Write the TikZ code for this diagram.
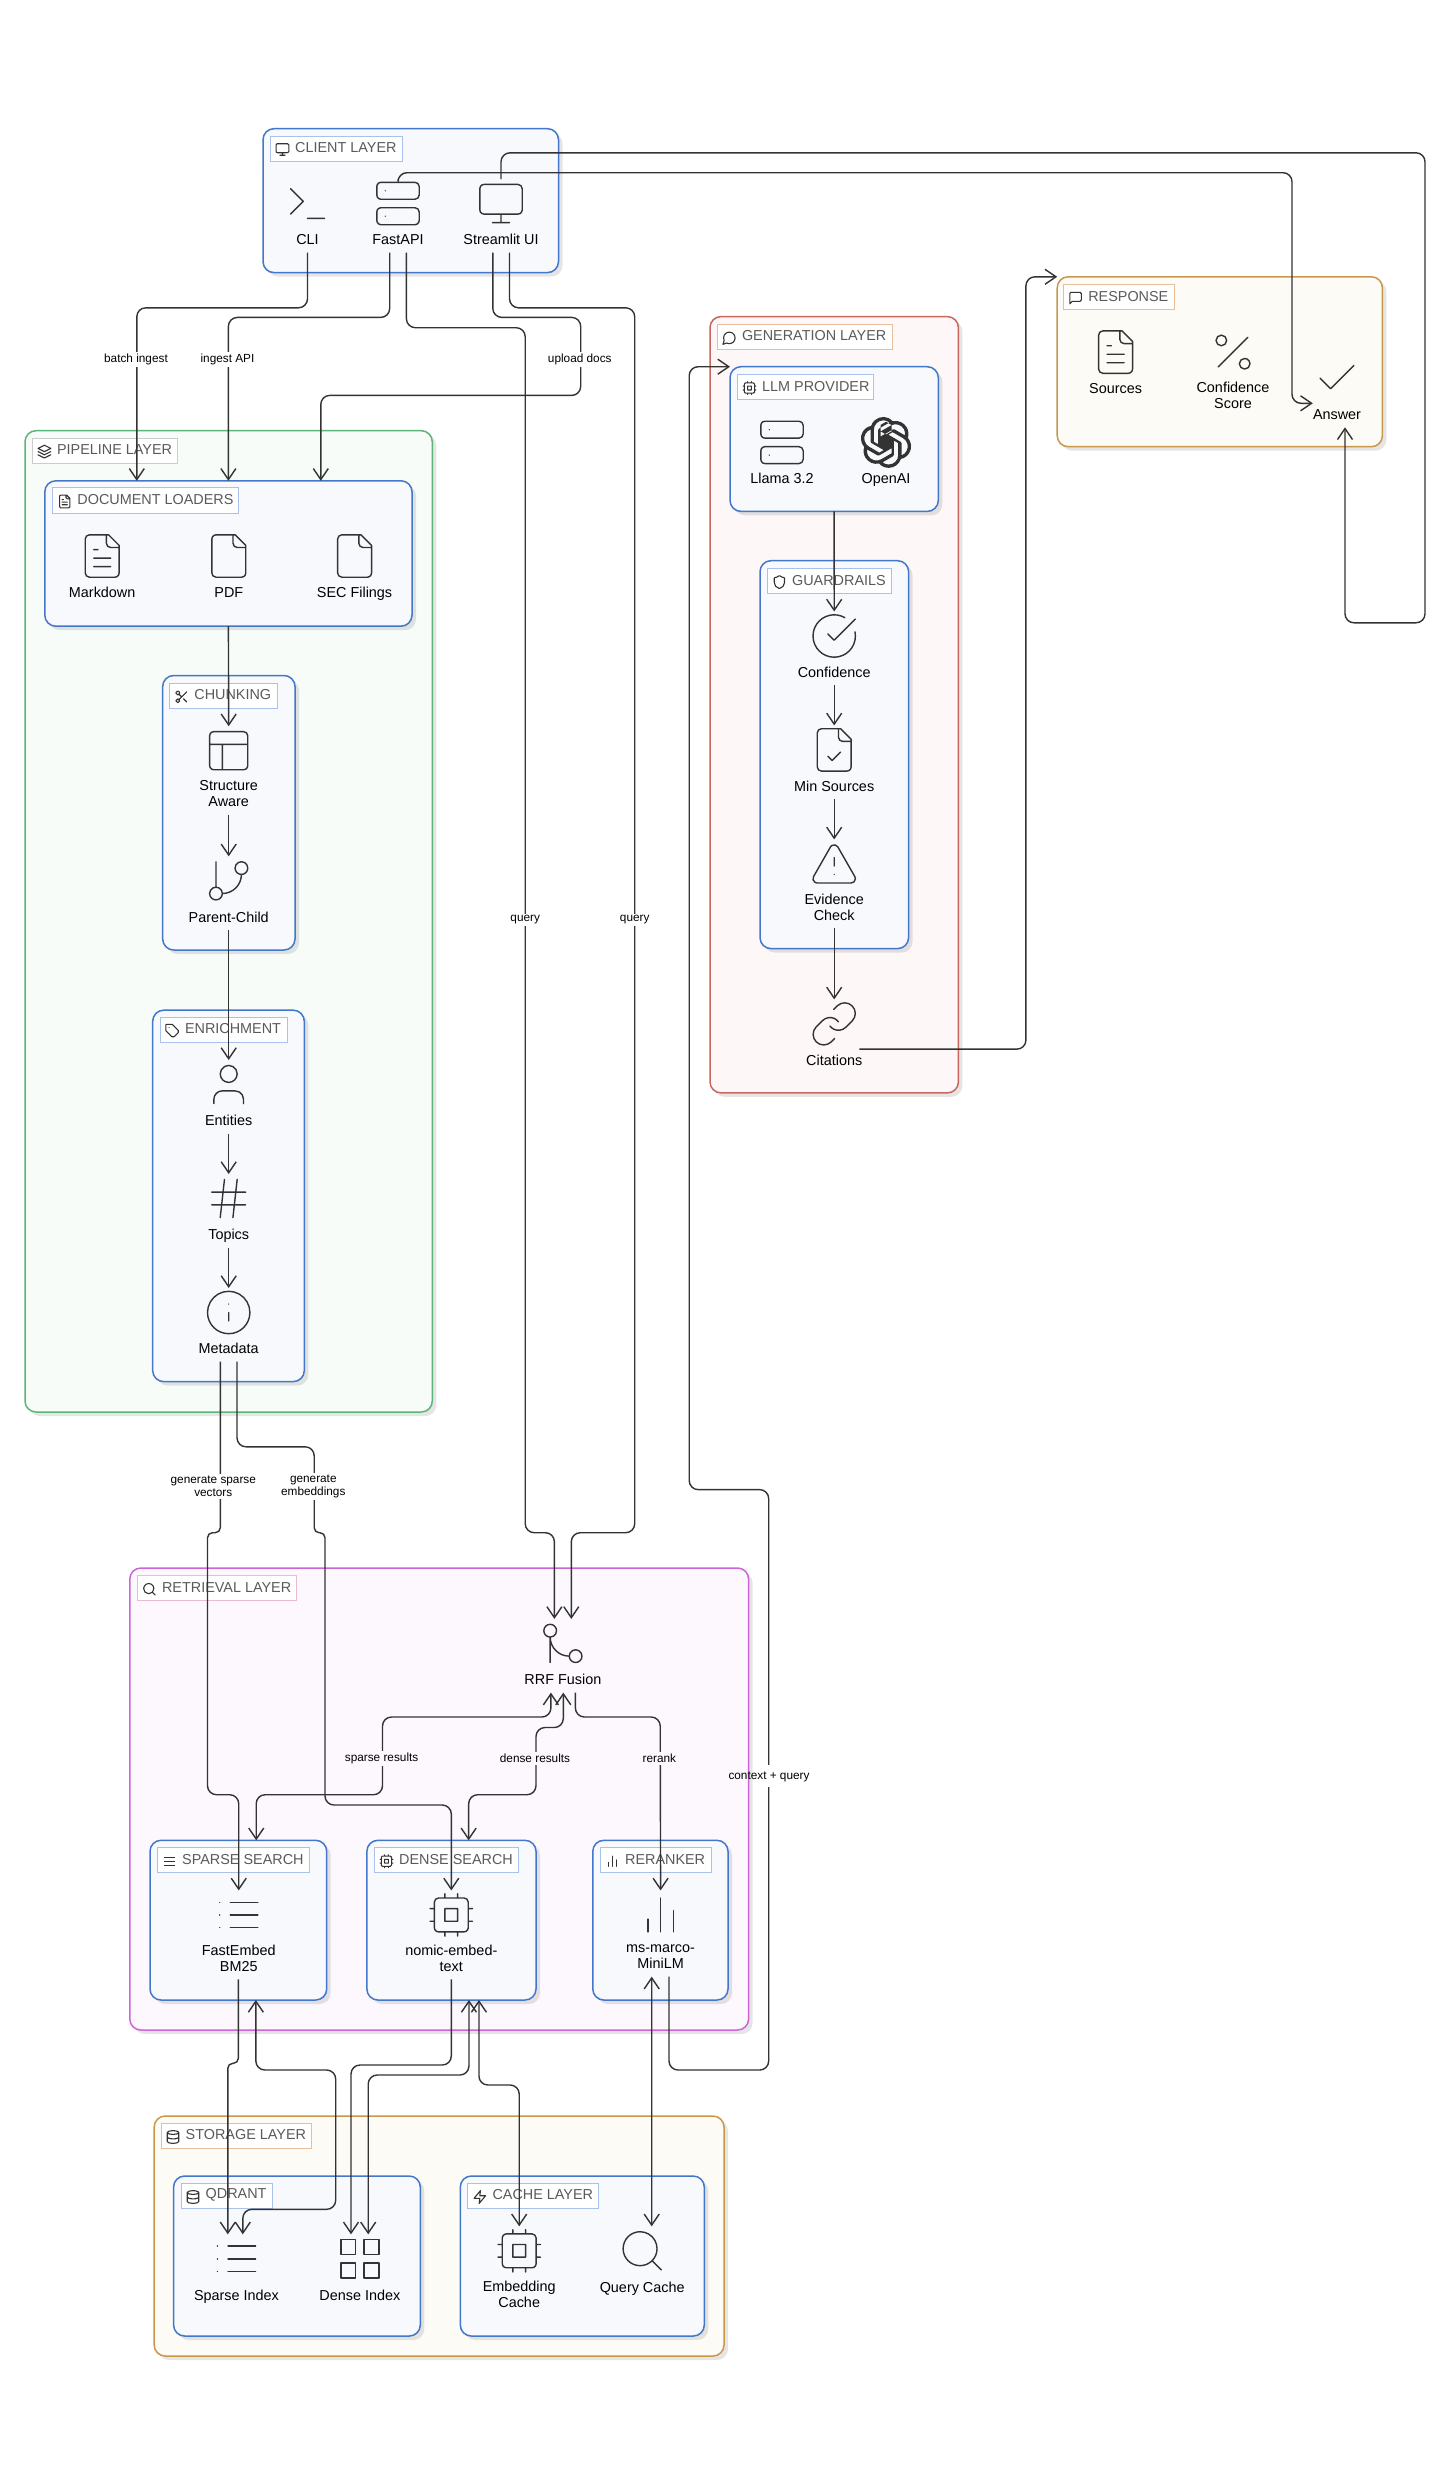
\documentclass[tikz,border=0pt]{standalone}
\usepackage{fontspec}
\setmainfont{Liberation Sans}
\usetikzlibrary{arrows.meta,fit,shadows,svg.path}

\definecolor{inkline}{HTML}{333333}
\definecolor{taginkc}{HTML}{5A5A5A}
\definecolor{bluepen}{HTML}{4277CC}
\definecolor{bluefill}{HTML}{F8F9FD}
\definecolor{bluetag}{HTML}{A9C2EC}
\definecolor{greenpen}{HTML}{5CB578}
\definecolor{greenfill}{HTML}{F7FCF8}
\definecolor{redpen}{HTML}{C9665F}
\definecolor{redfill}{HTML}{FDF7F7}
\definecolor{orangepen}{HTML}{C9984D}
\definecolor{orangefill}{HTML}{FCFBF6}
\definecolor{orangetag}{HTML}{E9BC9A}
\definecolor{pinkpen}{HTML}{CC66D6}
\definecolor{pinkfill}{HTML}{FCF8FD}
\definecolor{pinktag}{HTML}{EBBBD2}

\tikzset{
  lucide/.style = {draw = inkline, shift = {(-12pt,12pt)}, yscale = -1,
    line cap = round, line join = round},
  bigicon/.style = {scale = 2.12, line width = 1.4pt},
  tagicon/.style = {scale = 0.64, line width = 1.1pt},
  panel/.style = {draw = #1pen, fill = #1fill, line width = 1.5pt, rounded corners = 11pt,
    inner sep = 0pt, outer sep = 0pt,
    drop shadow = {shadow xshift = 4pt, shadow yshift = -4pt, fill = black, opacity = .1}},
  tagbox/.style = {draw = #1, fill = white, line width = .8pt, inner sep = 0pt, outer sep = 0pt},
  tagtext/.style = {text = taginkc, font = \fontsize{14.4}{16}\selectfont, inner sep = 0pt},
  entrytext/.style = {text = black, font = \fontsize{14.4}{16}\selectfont, align = center,
    inner xsep = 0pt, inner ysep = 2.8pt, execute at begin node = \strut},
  flowlabel/.style = {text = black, font = \fontsize{11.8}{13}\selectfont, align = center,
    fill = #1, inner xsep = 2pt, inner ysep = 2pt},
  flowlabel/.default = white,
  flow/.style = {draw = inkline, line width = 1.4pt, rounded corners = 9pt,
    -{Straight Barb[length = 11pt, width = 15pt]}},
  twoway/.style = {flow, {Straight Barb[length = 11pt, width = 15pt]}-{Straight Barb[length = 11pt, width = 15pt]}}
}

\newcommand{\newicon}[2]{\tikzset{pics/#1/.style = {code = {\path[lucide] svg {#2};}}}}

\newicon{icmonitor}{M 4 3 h 16 a 2 2 0 0 1 2 2 v 10 a 2 2 0 0 1 -2 2 h -16 a 2 2 0 0 1 -2 -2 v -10 a 2 2 0 0 1 2 -2 z M 8 21 h 8 M 12 17 v 4}
\newicon{icterminal}{M 4 17 L 10 11 L 4 5 M 12 19 h 8}
\newicon{icserver}{M 4 2 h 16 a 2 2 0 0 1 2 2 v 4 a 2 2 0 0 1 -2 2 h -16 a 2 2 0 0 1 -2 -2 v -4 a 2 2 0 0 1 2 -2 z M 4 14 h 16 a 2 2 0 0 1 2 2 v 4 a 2 2 0 0 1 -2 2 h -16 a 2 2 0 0 1 -2 -2 v -4 a 2 2 0 0 1 2 -2 z M 6 6 h 0.01 M 6 18 h 0.01}
\newicon{icfile}{M 15 2 H 6 a 2 2 0 0 0 -2 2 v 16 a 2 2 0 0 0 2 2 h 12 a 2 2 0 0 0 2 -2 V 7 z M 14 2 v 4 a 2 2 0 0 0 2 2 h 4}
\newicon{icfiletext}{M 15 2 H 6 a 2 2 0 0 0 -2 2 v 16 a 2 2 0 0 0 2 2 h 12 a 2 2 0 0 0 2 -2 V 7 z M 14 2 v 4 a 2 2 0 0 0 2 2 h 4 M 10 9 H 8 M 16 13 H 8 M 16 17 H 8}
\newicon{icfilecheck}{M 15 2 H 6 a 2 2 0 0 0 -2 2 v 16 a 2 2 0 0 0 2 2 h 12 a 2 2 0 0 0 2 -2 V 7 z M 14 2 v 4 a 2 2 0 0 0 2 2 h 4 M 9 15 l 2 2 l 4 -4}
\newicon{iclayout}{M 5 3 h 14 a 2 2 0 0 1 2 2 v 14 a 2 2 0 0 1 -2 2 h -14 a 2 2 0 0 1 -2 -2 v -14 a 2 2 0 0 1 2 -2 z M 3 9 h 18 M 9 21 v -12}
\newicon{icbranch}{M 6 3 v 12 M 15 6 a 3 3 0 0 0 3 3 a 3 3 0 0 0 3 -3 a 3 3 0 0 0 -3 -3 a 3 3 0 0 0 -3 3 z M 3 18 a 3 3 0 0 0 3 3 a 3 3 0 0 0 3 -3 a 3 3 0 0 0 -3 -3 a 3 3 0 0 0 -3 3 z M 18 9 a 9 9 0 0 1 -9 9}
\newicon{icmerge}{M 15 18 a 3 3 0 0 0 3 3 a 3 3 0 0 0 3 -3 a 3 3 0 0 0 -3 -3 a 3 3 0 0 0 -3 3 z M 3 6 a 3 3 0 0 0 3 3 a 3 3 0 0 0 3 -3 a 3 3 0 0 0 -3 -3 a 3 3 0 0 0 -3 3 z M 6 21 V 9 a 9 9 0 0 0 9 9}
\newicon{icuser}{M 19 21 v -2 a 4 4 0 0 0 -4 -4 H 9 a 4 4 0 0 0 -4 4 v 2 M 8 7 a 4 4 0 0 0 4 4 a 4 4 0 0 0 4 -4 a 4 4 0 0 0 -4 -4 a 4 4 0 0 0 -4 4 z}
\newicon{ichash}{M 4 9 h 16 M 4 15 h 16 M 10 3 L 8 21 M 16 3 L 14 21}
\newicon{icinfo}{M 2 12 a 10 10 0 0 0 10 10 a 10 10 0 0 0 10 -10 a 10 10 0 0 0 -10 -10 a 10 10 0 0 0 -10 10 z M 12 16 v -4 M 12 8 h 0.01}
\newicon{iccircheck}{M 21.801 10 A 10 10 0 1 1 17 3.335 M 9 11 l 3 3 L 22 4}
\newicon{icalert}{M 21.73 18 l -8 -14 a 2 2 0 0 0 -3.48 0 l -8 14 A 2 2 0 0 0 4 21 h 16 a 2 2 0 0 0 1.73 -3 z M 12 9 v 4 M 12 17 h 0.01}
\newicon{iclink}{M 10 13 a 5 5 0 0 0 7.54 0.54 l 3 -3 a 5 5 0 0 0 -7.07 -7.07 l -1.72 1.71 M 14 11 a 5 5 0 0 0 -7.54 -0.54 l -3 3 a 5 5 0 0 0 7.07 7.07 l 1.71 -1.71}
\newicon{icpercent}{M 19 5 L 5 19 M 4 6.5 a 2.5 2.5 0 0 0 2.5 2.5 a 2.5 2.5 0 0 0 2.5 -2.5 a 2.5 2.5 0 0 0 -2.5 -2.5 a 2.5 2.5 0 0 0 -2.5 2.5 z M 15 17.5 a 2.5 2.5 0 0 0 2.5 2.5 a 2.5 2.5 0 0 0 2.5 -2.5 a 2.5 2.5 0 0 0 -2.5 -2.5 a 2.5 2.5 0 0 0 -2.5 2.5 z}
\newicon{iccheck}{M 20 6 L 9 17 l -5 -5}
\newicon{icsearch}{M 3 11 a 8 8 0 0 0 8 8 a 8 8 0 0 0 8 -8 a 8 8 0 0 0 -8 -8 a 8 8 0 0 0 -8 8 z M 21 21 L 16.65 16.65}
\newicon{iclist}{M 8 6 h 13 M 8 12 h 13 M 8 18 h 13 M 3 6 h 0.01 M 3 12 h 0.01 M 3 18 h 0.01}
\newicon{icmenu}{M 4 6 h 16 M 4 12 h 16 M 4 18 h 16}
\newicon{icbars}{M 6 20 V 14 M 12 20 V 4 M 18 20 V 10}
\newicon{iccpu}{M 6 4 h 12 a 2 2 0 0 1 2 2 v 12 a 2 2 0 0 1 -2 2 h -12 a 2 2 0 0 1 -2 -2 v -12 a 2 2 0 0 1 2 -2 z M 9 9 h 6 v 6 h -6 z M 15 2 v 2 M 15 20 v 2 M 2 15 h 2 M 2 9 h 2 M 20 15 h 2 M 20 9 h 2 M 9 2 v 2 M 9 20 v 2}
\newicon{icgrid}{M 3 3 h 7 v 7 h -7 z M 14 3 h 7 v 7 h -7 z M 14 14 h 7 v 7 h -7 z M 3 14 h 7 v 7 h -7 z}
\newicon{iclayers}{M 12 2 L 2 7 l 10 5 l 10 -5 z M 2 17 l 10 5 l 10 -5 M 2 12 l 10 5 l 10 -5}
\newicon{icscissors}{M 3 6 a 3 3 0 0 0 3 3 a 3 3 0 0 0 3 -3 a 3 3 0 0 0 -3 -3 a 3 3 0 0 0 -3 3 z M 8.12 8.12 L 12 12 M 20 4 L 8.12 15.88 M 3 18 a 3 3 0 0 0 3 3 a 3 3 0 0 0 3 -3 a 3 3 0 0 0 -3 -3 a 3 3 0 0 0 -3 3 z M 14.8 14.8 L 20 20}
\newicon{ictag}{M 12 2 H 2 v 10 l 9.29 9.29 c 0.94 0.94 2.48 0.94 3.42 0 l 6.58 -6.58 c 0.94 -0.94 0.94 -2.48 0 -3.42 L 12 2 z M 7 7 h 0.01}
\newicon{icbubble}{M 7.9 20 A 9 9 0 1 0 4 16.1 L 2 22 z}
\newicon{icsquare}{M 21 15 a 2 2 0 0 1 -2 2 H 7 l -4 4 V 5 a 2 2 0 0 1 2 -2 h 14 a 2 2 0 0 1 2 2 z}
\newicon{icshield}{M 20 13 c 0 5 -3.5 7.5 -7.66 8.95 a 1 1 0 0 1 -0.67 -0.01 C 7.5 20.5 4 18 4 13 V 6 a 1 1 0 0 1 1 -1 c 2 0 4.5 -1.2 6.24 -2.72 a 1.17 1.17 0 0 1 1.52 0 C 14.51 3.81 17 5 19 5 a 1 1 0 0 1 1 1 z}
\newicon{icdatabase}{M 3 5 a 9 3 0 0 0 9 3 a 9 3 0 0 0 9 -3 a 9 3 0 0 0 -9 -3 a 9 3 0 0 0 -9 3 z M 3 5 V 19 a 9 3 0 0 0 9 3 a 9 3 0 0 0 9 -3 V 5 M 3 12 a 9 3 0 0 0 9 3 a 9 3 0 0 0 9 -3}
\newicon{iczap}{M 13 2 L 3 14 h 9 l -1 8 l 10 -12 h -9 z}

\tikzset{pics/icopenai/.style = {code = {\path[lucide, draw = none, fill = inkline] svg {M 22.2819 9.8211 a 5.9847 5.9847 0 0 0 -0.5157 -4.9108 a 6.0462 6.0462 0 0 0 -6.5098 -2.9 A 6.0651 6.0651 0 0 0 4.9807 4.1818 a 5.9847 5.9847 0 0 0 -3.9977 2.9 a 6.0462 6.0462 0 0 0 0.7427 7.0966 a 5.98 5.98 0 0 0 0.511 4.9107 a 6.051 6.051 0 0 0 6.5146 2.9001 A 5.9847 5.9847 0 0 0 13.2599 24 a 6.0557 6.0557 0 0 0 5.7718 -4.2058 a 5.9894 5.9894 0 0 0 3.9977 -2.9001 a 6.0557 6.0557 0 0 0 -0.7475 -7.0729 z m -9.022 12.6081 a 4.4755 4.4755 0 0 1 -2.8764 -1.0408 l 0.1419 -0.0804 l 4.7783 -2.7582 a 0.7948 0.7948 0 0 0 0.3927 -0.6813 v -6.7369 l 2.02 1.1686 a 0.071 0.071 0 0 1 0.038 0.052 v 5.5826 a 4.504 4.504 0 0 1 -4.4945 4.4944 z m -9.6607 -4.1254 a 4.4708 4.4708 0 0 1 -0.5346 -3.0137 l 0.142 0.0852 l 4.783 2.7582 a 0.7712 0.7712 0 0 0 0.7806 0 l 5.8428 -3.3685 v 2.3324 a 0.0804 0.0804 0 0 1 -0.0332 0.0615 L 9.74 19.9502 a 4.4992 4.4992 0 0 1 -6.1408 -1.6464 z M 2.3408 7.8956 a 4.485 4.485 0 0 1 2.3655 -1.9728 V 11.6 a 0.7664 0.7664 0 0 0 0.3879 0.6765 l 5.8144 3.3543 l -2.0201 1.1685 a 0.0757 0.0757 0 0 1 -0.071 0 l -4.8303 -2.7865 A 4.504 4.504 0 0 1 2.3408 7.872 z m 16.5963 3.8558 L 13.1038 8.364 L 15.1192 7.2 a 0.0757 0.0757 0 0 1 0.071 0 l 4.8303 2.7913 a 4.4944 4.4944 0 0 1 -0.6765 8.1042 v -5.6772 a 0.79 0.79 0 0 0 -0.407 -0.667 z m 2.0107 -3.0231 l -0.142 -0.0852 l -4.7735 -2.7818 a 0.7759 0.7759 0 0 0 -0.7854 0 L 9.409 9.2297 V 6.8974 a 0.0662 0.0662 0 0 1 0.0284 -0.0615 l 4.8303 -2.7866 a 4.4992 4.4992 0 0 1 6.6802 4.66 z M 8.3065 12.863 l -2.02 -1.1638 a 0.0804 0.0804 0 0 1 -0.038 -0.0567 V 6.0742 a 4.4992 4.4992 0 0 1 7.3757 -3.4537 l -0.142 0.0805 L 8.704 5.459 a 0.7948 0.7948 0 0 0 -0.3927 0.6813 z m 1.0976 -2.3654 l 2.602 -1.4998 l 2.6069 1.4998 v 2.9994 l -2.5974 1.4997 l -2.6067 -1.4997 z};}}}

% box from two corners: style colour, name, x1, y1, x2, y2
\newcommand{\panelbox}[6]{\node[panel = #1, fit = {(#3,#4) (#5,#6)}] (#2) {};}

% caption of a box: border colour, name, x1, y1, x2, y2, icon, text
\newcommand{\tagrow}[8]{%
  \node[tagbox = #1, fit = {(#3,#4) (#5,#6)}] (#2) {};
  \pic[tagicon] at ([xshift = 12pt, yshift = -1pt]#2.west) {#7};
  \node[tagtext, anchor = west] (#2-text) at ([xshift = 24.5pt, yshift = 1pt]#2.west) {#8};}

% icon with its text under it: name, icon, x, y of first line, text
\newcommand{\entry}[5]{%
  \pic[bigicon] at (#3,#4-36.5) {#2};
  \coordinate (#1-top) at (#3,#4-61);
  \node[entrytext, anchor = north] (#1) at (#3,#4-9.3) {#5};}

\begin{document}
\begin{tikzpicture}[x = 1pt, y = -1pt]

    \useasboundingbox[fill = white] (0,0) rectangle (1450,2473);

    % Outer boxes
    \panelbox{blue}{client}{263}{128.7}{558.5}{272.6}
    \panelbox{green}{pipeline}{25}{430.7}{432.3}{1412}
    \panelbox{red}{generation}{710}{316.6}{958.4}{1092.9}
    \panelbox{orange}{response}{1057.2}{276.8}{1382.4}{446.7}
    \panelbox{pink}{retrieval}{129.8}{1568}{748.6}{2030}
    \panelbox{orange}{storage}{154.2}{2116}{724}{2356}

    % Inner boxes
    \panelbox{blue}{loaders}{44.8}{480.8}{412}{626.2}
    \panelbox{blue}{chunking}{162.7}{675.5}{295}{950}
    \panelbox{blue}{enrichment}{152.7}{1010.2}{304.3}{1381.6}
    \panelbox{blue}{llm}{730}{366.7}{938.3}{511.4}
    \panelbox{blue}{guardrails}{760}{560.7}{908.6}{948.6}
    \panelbox{blue}{sparse}{150}{1840.3}{326.7}{2000}
    \panelbox{blue}{dense}{366.9}{1840.3}{536}{2000}
    \panelbox{blue}{reranker}{592.8}{1840.3}{728}{2000}
    \panelbox{blue}{qdrant}{173.6}{2176}{420.3}{2336}
    \panelbox{blue}{cache}{460.3}{2176}{704.3}{2336}

    % Captions
    \tagrow{bluetag}{clienttag}{270.5}{136}{402}{161}{icmonitor}{CLIENT LAYER}
    \tagrow{black!20}{pipelinetag}{32.4}{438}{177.5}{463.2}{iclayers}{PIPELINE LAYER}
    \tagrow{orangetag}{generationtag}{717.3}{324.3}{892.7}{349.5}{icbubble}{GENERATION LAYER}
    \tagrow{orangetag}{responsetag}{1063.6}{284.5}{1174}{309.7}{icsquare}{RESPONSE}
    \tagrow{pinktag}{retrievaltag}{137.4}{1575.8}{296.3}{1600.7}{icsearch}{RETRIEVAL LAYER}
    \tagrow{orangetag}{storagetag}{161}{2123.3}{311.2}{2148.7}{icdatabase}{STORAGE LAYER}
    \tagrow{bluetag}{loaderstag}{52.7}{487.7}{238.6}{513.3}{icfiletext}{DOCUMENT LOADERS}
    \tagrow{bluetag}{chunkingtag}{169.7}{683.2}{277.7}{708.7}{icscissors}{CHUNKING}
    \tagrow{bluetag}{enrichmenttag}{160.3}{1017.3}{287}{1042.3}{ictag}{ENRICHMENT}
    \tagrow{bluetag}{llmtag}{737.5}{374.8}{873.5}{399.3}{iccpu}{LLM PROVIDER}
    \tagrow{bluetag}{guardrailstag}{767.4}{568.4}{891}{593.7}{icshield}{GUARDRAILS}
    \tagrow{bluetag}{sparsetag}{157.5}{1847.8}{309.7}{1872.6}{icmenu}{SPARSE SEARCH}
    \tagrow{bluetag}{densetag}{374.5}{1847.8}{518.7}{1872.6}{iccpu}{DENSE SEARCH}
    \tagrow{bluetag}{rerankertag}{600.4}{1847.8}{711.5}{1872.6}{icbars}{RERANKER}
    \tagrow{bluetag}{qdranttag}{181}{2183.3}{272.5}{2208.7}{icdatabase}{QDRANT}
    \tagrow{bluetag}{cachetag}{467.8}{2183.3}{598.3}{2208.7}{iczap}{CACHE LAYER}

    % Entries
    \entry{cli}{icterminal}{307.5}{240}{CLI}
    \entry{fastapi}{icserver}{398}{240}{FastAPI}
    \entry{streamlit}{icmonitor}{501}{240}{Streamlit UI}

    \entry{markdown}{icfiletext}{102.2}{592.5}{Markdown}
    \entry{pdf}{icfile}{228.8}{592.5}{PDF}
    \entry{secfilings}{icfile}{354.6}{592.5}{SEC Filings}

    \entry{structure}{iclayout}{228.7}{787.2}{Structure\\\strut Aware}
    \entry{parent}{icbranch}{228.7}{917.3}{Parent-Child}
    \entry{entities}{icuser}{228.7}{1121}{Entities}
    \entry{topics}{ichash}{228.7}{1235}{Topics}
    \entry{metadata}{icinfo}{228.7}{1349}{Metadata}

    \entry{llama}{icserver}{782}{478.9}{Llama 3.2}
    \entry{openai}{icopenai}{886}{478.9}{OpenAI}
    \entry{confidence}{iccircheck}{834.2}{672.5}{Confidence}
    \entry{minsources}{icfilecheck}{834.2}{786.4}{Min Sources}
    \entry{evidence}{icalert}{834.2}{900.4}{Evidence\\\strut Check}
    \entry{citations}{iclink}{834.2}{1060.4}{Citations}

    \entry{sources}{icfiletext}{1115.6}{388.6}{Sources}
    \entry{confscore}{icpercent}{1233}{388.6}{Confidence\\\strut Score}
    \entry{answer}{iccheck}{1337}{414.6}{Answer}

    \entry{fusion}{icmerge}{562.9}{1679.9}{RRF Fusion}
    \entry{fastembed}{iclist}{238.75}{1951.4}{FastEmbed\\\strut BM25}
    \entry{nomic}{iccpu}{451.3}{1951.4}{nomic-embed-\\\strut text}
    \entry{minilm}{icbars}{660.6}{1951.4}{ms-marco-\\\strut MiniLM}

    \entry{sparseidx}{iclist}{236.5}{2295.3}{Sparse Index}
    \entry{denseidx}{icgrid}{359.9}{2295.3}{Dense Index}
    \entry{embcache}{iccpu}{519.2}{2287.3}{Embedding\\\strut Cache}
    \entry{qcache}{icsearch}{642.2}{2287.3}{Query Cache}


    % Client to pipeline
    \draw[flow] (cli.south) |- (136.8,307.8) -- ([xshift = -91.6pt]loaders.north);
    \draw[flow] ([xshift = -8.3pt]fastapi.south) |- (228.4,317.4) -- (loaders.north);
    \draw[flow] ([xshift = -8.2pt]streamlit.south) |- (580.7,317.4) |- (320.8,395.4) -- ([xshift = 92.4pt]loaders.north);

    % Client to retrieval
    \draw[flow] ([xshift = 8.4pt]fastapi.south) |- (525.2,327.7) |- (554.4,1532.7) -- ([xshift = -8.5pt]fusion-top);
    \draw[flow] ([xshift = 8.5pt]streamlit.south) |- (634.7,307.8) |- (571.3,1532.7) -- ([xshift = 8.4pt]fusion-top);

    % Client to answer
    \draw[flow] (fastapi-top) |- (1292,172.7) |- ([yshift = 2pt]answer.north west);
    \draw[flow] (streamlit-top) |- (1425,152.8) |- (1345,622.8) -- ([xshift = 8pt]answer.south);

    % Pipeline
    \draw[flow] (loaders.south) -- (structure-top);
    \draw[flow] (structure.south) -- (parent-top);
    \draw[flow] (parent.south) -- (entities-top);
    \draw[flow] (entities.south) -- (topics-top);
    \draw[flow] (topics.south) -- (metadata-top);

    % Pipeline to retrieval
    \draw[flow] ([xshift = -8.4pt]metadata.south) [rounded corners = 5pt] |- (207.5,1532.7)
      [rounded corners = 9pt] |- (238.75,1794.7) -- (fastembed-top);
    \draw[flow] ([xshift = 8.3pt]metadata.south) |- (314.2,1446.8) [rounded corners = 5pt] |- (325,1532.7)
      [rounded corners = 9pt] |- (451.3,1805) -- (nomic-top);

    % Retrieval
    \draw[twoway] ([xshift = -12pt]fusion.south) |- (382.5,1717) |- (256.2,1794.7) -- ([xshift = 17.9pt]sparse.north);
    \draw[twoway] ([xshift = 0.4pt]fusion.south) |- (536,1727.5) |- (468.7,1794.7) -- ([xshift = 17.2pt]dense.north);
    \draw[flow] ([xshift = 12.5pt]fusion.south) |- (660.2,1717) -- (minilm-top);

    % Retrieval to storage
    \draw[flow] ([xshift = -0.4pt]fastembed.south) [rounded corners = 5pt] |- (227.8,2063.3)
      -- ([xshift = -8.7pt]sparseidx-top);
    \draw[twoway] ([xshift = 17.5pt]sparse.south) |- (335.7,2070) |- (242.8,2209.3) -- ([xshift = 6.3pt]sparseidx-top);
    \draw[flow] (nomic.south) |- (351,2065) -- ([xshift = -8.9pt]denseidx-top);
    \draw[twoway] ([xshift = 17.5pt]dense.south) |- (368.2,2075) -- ([xshift = 8.3pt]denseidx-top);
    \draw[twoway] ([xshift = 27.5pt]dense.south) |- (519.2,2085) -- (embcache-top);
    \draw[twoway] ([xshift = -8.9pt]minilm.south) -- ([xshift = 9.5pt]qcache-top);

    % Retrieval to generation
    \draw[flow] ([xshift = 8.4pt]minilm.south) |- (768.7,2070) |- (689.2,1489.6) |- (llm.north west);

    % Generation
    \draw[flow] (llm.south) -- (confidence-top);
    \draw[flow] (confidence.south) -- (minsources-top);
    \draw[flow] (minsources.south) -- (evidence-top);
    \draw[flow] (evidence.south) -- (citations-top);
    \draw[flow] ([xshift = -3pt, yshift = 2pt]citations.north east) -- ++(166.5,0) |- (response.north west);


    % Labels on connectors
    \node[flowlabel] (batchlabel) at (136,359) {batch ingest};
    \node[flowlabel] (ingestlabel) at (227.5,359) {ingest API};
    \node[flowlabel] (uploadlabel) at (579.8,359) {upload docs};
    \node[flowlabel] (querylabela) at (525.2,920) {query};
    \node[flowlabel] (querylabelb) at (634.7,920) {query};
    \node[flowlabel] (sparsevec) at (213.3,1486.5) {generate sparse\\vectors};
    \node[flowlabel] (embedlabel) at (313.3,1486.5) {generate\\embeddings};
    \node[flowlabel = pinkfill] (sparseres) at (381.6,1758.3) {sparse results};
    \node[flowlabel = pinkfill] (denseres) at (535,1758.3) {dense results};
    \node[flowlabel = pinkfill] (reranklabel) at (659.3,1758.3) {rerank};

    \fill[white] (758,1765) rectangle (780,1787);
    \node[flowlabel = none] (contextlabel) at (769,1777) {context + query};

  \end{tikzpicture}
\end{document}
